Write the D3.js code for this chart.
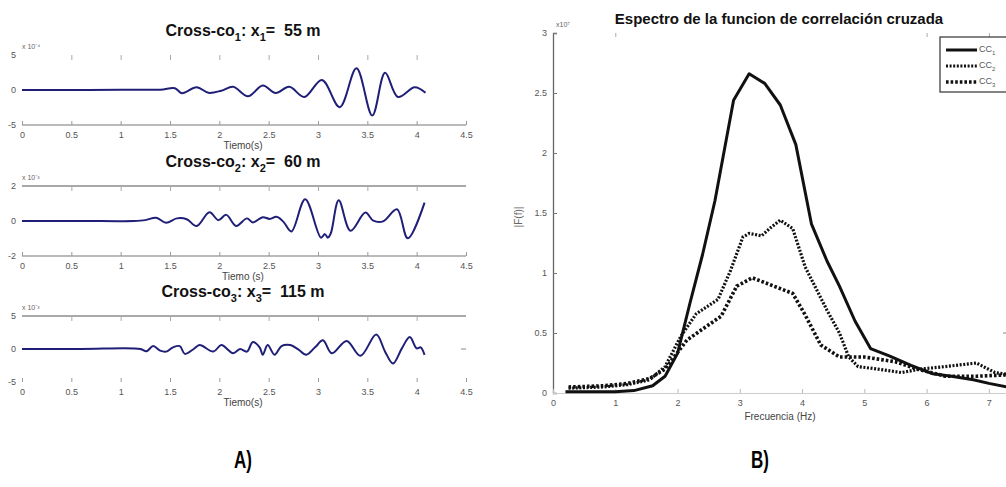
<!DOCTYPE html>
<html><head><meta charset="utf-8">
<script src="https://cdn.jsdelivr.net/npm/d3@7"></script>
<style>
body{margin:0;background:#fff}
svg{display:block}
text{font-family:"Liberation Sans",Arial,sans-serif}
</style>
</head><body>
<svg id="c" width="1006" height="487"></svg>
<script>
// ---------- DATA ----------
const timeTicks = [0, 0.5, 1, 1.5, 2, 2.5, 3, 3.5, 4, 4.5];
const timeTickLabels = ["0","0.5","1","1.5","2","2.5","3","3.5","4","4.5"];

// Cross-co1 (x1 = 55 m), amplitude x10^-4
const t1 = [0, 0.5, 1.0, 1.4, 1.55, 1.62, 1.77, 1.89, 2.02, 2.14, 2.29, 2.44, 2.57, 2.71, 2.86, 3.04, 3.22, 3.39, 3.55, 3.68, 3.81, 3.98, 4.09];
const a1 = [0, 0, 0.05, 0.05, 0.25, -0.45, 0.4, -0.4, -0.1, 0.45, -0.9, 0.65, -0.42, 0.45, -1.0, 1.43, -2.45, 3.1, -3.65, 2.45, -1.0, 0.38, -0.4];

// Cross-co2 (x2 = 60 m), amplitude x10^-3
const t2 = [0, 0.6, 1.13, 1.25, 1.36, 1.46, 1.57, 1.67, 1.77, 1.90, 1.99, 2.07, 2.17, 2.28, 2.34, 2.44, 2.51, 2.58, 2.65, 2.73, 2.87, 3.03, 3.07, 3.10, 3.13, 3.21, 3.33, 3.48, 3.56, 3.66, 3.80, 3.91, 4.08];
const a2 = [0, 0, 0, 0.05, 0.19, -0.1, 0.15, 0.1, -0.29, 0.5, 0.05, 0.35, -0.28, 0.15, -0.08, 0.22, 0.12, 0.24, -0.05, -0.6, 1.24, -0.95, -0.75, -0.95, -0.7, 1.18, -0.56, 0.48, 0.02, -0.02, 0.67, -0.99, 1.05];

// Cross-co3 (x3 = 115 m), amplitude x10^-3
const t3 = [0, 0.6, 1.2, 1.26, 1.33, 1.40, 1.46, 1.53, 1.60, 1.65, 1.74, 1.80, 1.94, 2.02, 2.14, 2.21, 2.28, 2.34, 2.41, 2.44, 2.49, 2.56, 2.63, 2.72, 2.80, 2.88, 2.97, 3.05, 3.14, 3.29, 3.43, 3.59, 3.68, 3.76, 3.85, 3.93, 4.00, 4.04, 4.08];
const a3 = [0, 0, 0, -0.35, 0.44, -0.25, -0.4, 0.25, 0.44, -0.74, 0.0, 0.59, -0.39, 0.59, -0.64, 0.0, -0.4, 1.07, 0.2, -0.88, 0.59, -0.88, 0.44, 0.59, -0.06, -0.88, 0.25, 1.32, -0.64, 1.23, -1.03, 2.2, -0.4, -2.2, 0.1, 1.81, 0.1, 0.25, -0.88];

// Spectrum (x10^7)
const freqTicks = [0, 1, 2, 3, 4, 5, 6, 7];
const specTicks = [0, 0.5, 1, 1.5, 2, 2.5, 3];
const specTickLabels = ["0", "0.5", "1", "1.5", "2", "2.5", "3"];
const seriesNames = ["CC1", "CC2", "CC3"];

const fCC1 = [0.2, 0.5, 1.0, 1.3, 1.6, 1.8, 2.0, 2.2, 2.4, 2.6, 2.9, 3.15, 3.4, 3.65, 3.9, 4.15, 4.4, 4.6, 4.85, 5.1, 5.4, 5.75, 6.1, 6.4, 6.75, 7.0, 7.5];
const vCC1 = [0.01, 0.01, 0.01, 0.02, 0.06, 0.14, 0.33, 0.75, 1.15, 1.6, 2.44, 2.66, 2.58, 2.4, 2.07, 1.41, 1.1, 0.89, 0.6, 0.37, 0.31, 0.23, 0.16, 0.14, 0.11, 0.08, 0.03];

const fCC2 = [0.25, 0.8, 1.2, 1.55, 1.8, 2.05, 2.3, 2.65, 2.85, 3.05, 3.15, 3.35, 3.5, 3.65, 3.85, 4.05, 4.4, 4.6, 4.75, 4.9, 5.2, 5.6, 5.9, 6.3, 6.8, 7.1, 7.5];
const vCC2 = [0.04, 0.05, 0.07, 0.11, 0.22, 0.47, 0.66, 0.78, 1.02, 1.3, 1.33, 1.31, 1.38, 1.44, 1.37, 1.05, 0.69, 0.5, 0.3, 0.22, 0.2, 0.17, 0.2, 0.22, 0.25, 0.17, 0.14];

const fCC3 = [0.25, 0.8, 1.2, 1.55, 1.8, 2.15, 2.45, 2.7, 2.95, 3.2, 3.5, 3.85, 4.05, 4.3, 4.6, 5.0, 5.5, 5.85, 6.3, 6.8, 7.25, 7.5];
const vCC3 = [0.05, 0.06, 0.08, 0.12, 0.2, 0.44, 0.55, 0.64, 0.89, 0.96, 0.9, 0.83, 0.65, 0.4, 0.3, 0.3, 0.26, 0.2, 0.14, 0.14, 0.15, 0.13];

// ---------- DRAW ----------
const svg = d3.select("#c");
const waveColor = "#1f1f78";
const axisGray = "#777";
const labelGray = "#555";

const xT = d3.scaleLinear().domain([0, 4.5]).range([22, 466]);

const subplots = [
  {t: t1, a: a1, dom: [-5, 5], top: 55, bot: 125, yt: [-5, 0, 5], ylab: ["-5","0","5"], exp: "x 10\u207B\u2074",
   title: ["Cross-co", "1", ": x", "1", "=\u00A0\u00A055 m"], xlabel: "Tiemo(s)", topLine: false, botLine: true},
  {t: t2, a: a2, dom: [-2, 2], top: 186, bot: 256, yt: [-2, 0, 2], ylab: ["-2","0","2"], exp: "x 10\u207B\u00B3",
   title: ["Cross-co", "2", ": x", "2", "=\u00A0\u00A060 m"], xlabel: "Tiemo (s)", topLine: true, botLine: true},
  {t: t3, a: a3, dom: [-5, 5], top: 316, bot: 382, yt: [-5, 0, 5], ylab: ["-5","0","5"], exp: "x 10\u207B\u00B3",
   title: ["Cross-co", "3", ": x", "3", "=\u00A0\u00A0115 m"], xlabel: "Tiemo(s)", topLine: true, botLine: false}
];

subplots.forEach((sp, i) => {
  const y = d3.scaleLinear().domain(sp.dom).range([sp.bot, sp.top]);
  const g = svg.append("g");

  // title
  const tt = g.append("text").attr("x", 243).attr("y", sp.top - 19)
    .attr("text-anchor", "middle").attr("font-size", 16).attr("font-weight", "bold").attr("fill", "#111");
  sp.title.forEach((s, k) => {
    const ts = tt.append("tspan").text(s);
    if (k === 1 || k === 3) ts.attr("font-size", 11).attr("dy", 5);
    else if (k === 2 || k === 4) ts.attr("dy", -5);
  });

  if (sp.topLine) g.append("line").attr("x1", 22).attr("x2", 466).attr("y1", sp.top).attr("y2", sp.top)
      .attr("stroke", "#555").attr("stroke-width", 1.2);
  if (sp.botLine) g.append("line").attr("x1", 22).attr("x2", 466).attr("y1", sp.bot).attr("y2", sp.bot)
      .attr("stroke", axisGray).attr("stroke-width", 1.2);

  const ax = d3.axisBottom(xT).tickValues(timeTicks).tickFormat((d, k) => timeTickLabels[k]).tickSize(-4).tickPadding(7);
  const axg = g.append("g").attr("transform", `translate(0,${sp.bot})`).call(ax);
  axg.select(".domain").remove();
  axg.selectAll(".tick line").attr("stroke", "#999");
  axg.selectAll(".tick text").attr("fill", labelGray).attr("font-size", 9).attr("font-family", "Liberation Sans, Arial, sans-serif");
  const axTop = d3.axisTop(xT).tickValues(timeTicks.slice(1, -1)).tickSize(-5).tickFormat("");
  const axtg = g.append("g").attr("transform", `translate(0,${sp.top})`).call(axTop);
  axtg.select(".domain").remove();
  axtg.selectAll(".tick line").attr("stroke", "#aaa");

  sp.yt.forEach((v, k) => {
    g.append("text").attr("x", 16).attr("y", y(v) + 3).attr("text-anchor", "end")
      .attr("font-size", 9).attr("fill", labelGray).text(sp.ylab[k]);
  });
  g.append("text").attr("x", 22).attr("y", sp.top - 6).attr("font-size", 7).attr("fill", "#666").text(sp.exp);

  g.append("text").attr("x", 243).attr("y", sp.bot + 24).attr("text-anchor", "middle")
    .attr("font-size", 10).attr("fill", "#444").text(sp.xlabel);

  const pts = sp.t.map((tv, k) => [tv, sp.a[k]]);
  const line = d3.line().x(d => xT(d[0])).y(d => y(d[1])).curve(d3.curveCatmullRom.alpha(0.5));
  g.append("path").datum(pts).attr("d", line).attr("fill", "none")
    .attr("stroke", waveColor).attr("stroke-width", 2).attr("stroke-linejoin", "round");
});
svg.append("line").attr("x1", 461).attr("x2", 466).attr("y1", 349).attr("y2", 349).attr("stroke", "#888");

// ---------- RIGHT PANEL ----------
const xF = d3.scaleLinear().domain([0, 7.5]).range([553, 1020]);
const yS = d3.scaleLinear().domain([0, 3]).range([393, 33]);
const R = svg.append("g");

R.append("text").attr("x", 779).attr("y", 24).attr("text-anchor", "middle")
  .attr("font-size", 15).attr("font-weight", "bold").attr("fill", "#111")
  .text("Espectro de la funcion de correlación cruzada");

const axL = d3.axisLeft(yS).tickValues(specTicks).tickFormat((d, k) => specTickLabels[k]).tickSize(-4).tickPadding(6);
const axLg = R.append("g").attr("transform", `translate(553,0)`).call(axL);
axLg.select(".domain").attr("stroke", "#666").attr("stroke-width", 1.3);
axLg.selectAll(".tick line").attr("stroke", "#777");
axLg.selectAll(".tick text").attr("fill", labelGray).attr("font-size", 9).attr("font-family", "Liberation Sans, Arial, sans-serif");

const axB = d3.axisBottom(xF).tickValues(freqTicks).tickSize(-4).tickPadding(7);
const axBg = R.append("g").attr("transform", `translate(0,393)`).call(axB);
axBg.select(".domain").attr("stroke", "#ccc").attr("stroke-width", 1.2);
axBg.selectAll(".tick line").attr("stroke", "#bbb");
axBg.selectAll(".tick text").attr("fill", labelGray).attr("font-size", 9).attr("font-family", "Liberation Sans, Arial, sans-serif");

const axT = d3.axisTop(xF).tickValues([1, 6, 7]).tickSize(-4).tickFormat("");
const axTg = R.append("g").attr("transform", `translate(0,33)`).call(axT);
axTg.select(".domain").remove();
axTg.selectAll(".tick line").attr("stroke", "#aaa");

R.append("line").attr("x1", 1003).attr("x2", 1008).attr("y1", yS(0.5)).attr("y2", yS(0.5)).attr("stroke", "#888");

R.append("text").attr("x", 556).attr("y", 27).attr("font-size", 7).attr("fill", "#666").text("x10\u2077");
R.append("text").attr("x", 780).attr("y", 420).attr("text-anchor", "middle").attr("font-size", 10).attr("fill", "#444").text("Frecuencia (Hz)");
R.append("text").attr("transform", "translate(522,217) rotate(-90)").attr("text-anchor", "middle")
  .attr("font-size", 10).attr("fill", "#666").text("|F(f)|");

const specSeries = [
  {f: fCC1, v: vCC1, dash: null, w: 3},
  {f: fCC2, v: vCC2, dash: "2,1.6", w: 3.2},
  {f: fCC3, v: vCC3, dash: "2.6,2", w: 3.6}
];
const sLine = d3.line().x(d => xF(d[0])).y(d => yS(d[1]));
specSeries.slice().reverse().forEach(s => {
  const pts = s.f.map((fv, k) => [fv, s.v[k]]);
  const p = R.append("path").datum(pts).attr("d", sLine).attr("fill", "none")
    .attr("stroke", "#111").attr("stroke-width", s.w).attr("stroke-linejoin", "round");
  if (s.dash) p.attr("stroke-dasharray", s.dash);
});

const lg = R.append("g");
lg.append("rect").attr("x", 940).attr("y", 37).attr("width", 80).attr("height", 55)
  .attr("fill", "#fff").attr("stroke", "#333").attr("stroke-width", 1.2);
specSeries.forEach((s, k) => {
  const yy = 50 + k * 16;
  const l = lg.append("line").attr("x1", 946).attr("x2", 977).attr("y1", yy).attr("y2", yy)
    .attr("stroke", "#111").attr("stroke-width", s.w);
  if (s.dash) l.attr("stroke-dasharray", s.dash);
  const tx = lg.append("text").attr("x", 979).attr("y", yy + 2).attr("font-size", 9).attr("fill", "#555");
  tx.append("tspan").text(seriesNames[k].slice(0, 2));
  tx.append("tspan").attr("font-size", 6).attr("dy", 3).text(seriesNames[k].slice(2));
});

svg.append("text").attr("transform", "translate(243,468) scale(0.85,1.15)").attr("text-anchor", "middle")
  .attr("font-family", "Liberation Serif, Times New Roman, serif").attr("font-weight", "bold").attr("font-size", 20).attr("fill", "#000").text("A)");
svg.append("text").attr("transform", "translate(760,468) scale(0.85,1.15)").attr("text-anchor", "middle")
  .attr("font-family", "Liberation Serif, Times New Roman, serif").attr("font-weight", "bold").attr("font-size", 20).attr("fill", "#000").text("B)");
</script>
</body></html>
